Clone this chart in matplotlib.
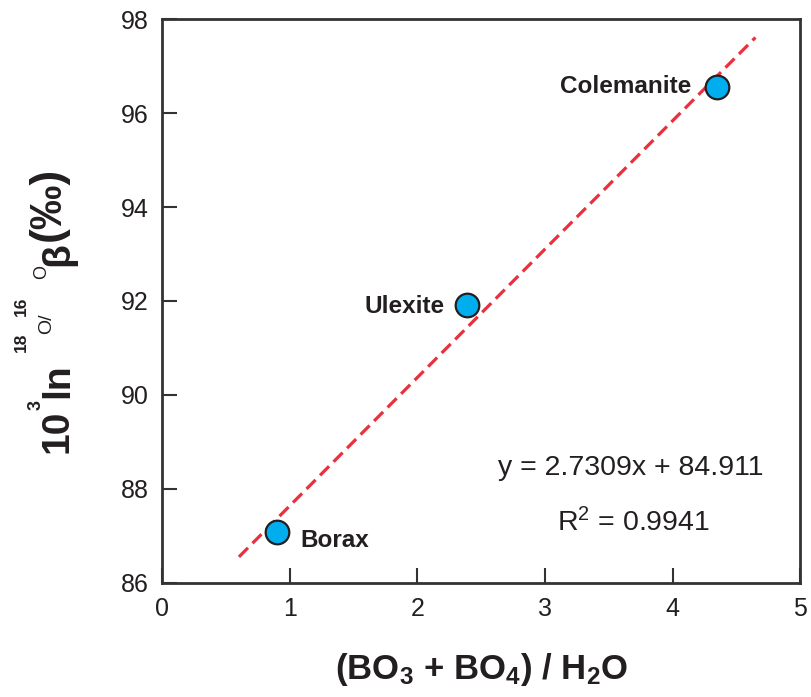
import numpy as np
import matplotlib
matplotlib.use("Agg")
import matplotlib.pyplot as plt

plt.rcParams['font.family'] = ['Liberation Sans', 'DejaVu Sans']
plt.rcParams['mathtext.fontset'] = 'custom'
plt.rcParams['mathtext.rm'] = 'Liberation Sans'
plt.rcParams['mathtext.it'] = 'Liberation Sans'
plt.rcParams['mathtext.bf'] = 'Liberation Sans:bold'

ink = '#231f20'

# minerals: (BO3+BO4)/H2O ratio vs 10^3 ln beta
minerals = ["Borax", "Ulexite", "Colemanite"]
ratio = [0.90, 2.39, 4.35]
beta = [87.09, 91.91, 96.55]

# regression line as printed on the figure
slope = 2.7309
intercept = 84.911
r2 = 0.9941
fit_x = [0.6, 4.65]

W, H = 811, 697
fig = plt.figure(figsize=(W / 100, H / 100), dpi=100)
ax = fig.add_axes([0.2003, 0.164, 0.7862, 0.8085])

fx = np.array(fit_x)
ax.plot(fx, slope * fx + intercept, color='#e8313c', lw=2.3,
        dashes=(4, 2), zorder=2)
ax.plot(ratio, beta, 'o', ms=17, mfc='#00aeef', mec='#231f20',
        mew=1.6, zorder=3)

# point labels
ax.text(ratio[0] + 0.18, beta[0] - 0.2, minerals[0], fontsize=17.5,
        fontweight='bold', color=ink, ha='left', va='center')
ax.text(ratio[1] - 0.18, beta[1] - 0.03, minerals[1], fontsize=17.5,
        fontweight='bold', color=ink, ha='right', va='center')
ax.text(ratio[2] - 0.2, beta[2] + 0.02, minerals[2], fontsize=17.5,
        fontweight='bold', color=ink, ha='right', va='center')

ax.text(3.67, 88.45, f"y = {slope}x + {intercept}", fontsize=20.5,
        color=ink, ha='center', va='center')
ax.text(3.69, 87.28, f"R$^{{2}}$ = {r2}", fontsize=20.5,
        color=ink, ha='center', va='center')

ax.set_xlim(0, 5)
ax.set_ylim(86, 98)
ax.set_xticks([0, 1, 2, 3, 4, 5])
ax.set_yticks([86, 88, 90, 92, 94, 96, 98])
ax.tick_params(direction='in', length=11, width=1.5, color='#333333',
               labelsize=18, labelcolor=ink, pad=10)
for s in ax.spines.values():
    s.set_linewidth(2)
    s.set_color('#333333')

ax.set_xlabel(r"(BO$_{\mathbf{3}}$ + BO$_{\mathbf{4}}$) / H$_{\mathbf{2}}$O",
              fontsize=25, fontweight='bold', color=ink, labelpad=22)

# y label built from pieces (isotope notation with raised mass numbers)
# (text, baseline x px, start y px, size, weight)
ylab_parts = [
    ("10", 68, 453, 28, 'bold'),
    ("3", 41, 410, 13, 'bold'),
    ("ln", 68, 398, 28, 'bold'),
    ("18", 26, 352, 12.5, 'bold'),
    ("O/", 51, 334, 14, 'normal'),
    ("16", 26, 316, 12.5, 'bold'),
    ("O", 46, 279, 13, 'normal'),
    ("β", 68, 266, 28, 'bold'),
    ("(‰)", 60, 241, 32, 'bold'),
]
for txt, bx, sy, size, wt in ylab_parts:
    fig.text(bx / W, 1 - sy / H, txt, rotation=90, rotation_mode='anchor',
             ha='left', va='baseline', fontsize=size, fontweight=wt,
             color=ink)

fig.savefig("out.png", dpi=100)
